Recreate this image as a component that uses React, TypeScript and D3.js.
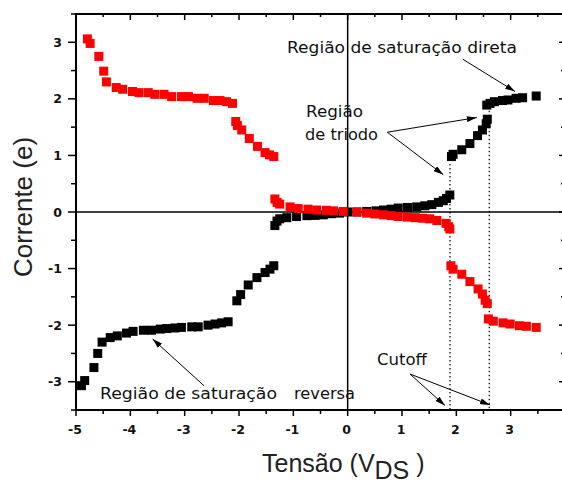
import React from "react";
import * as d3 from "d3";

const W = 562;
const H = 483;

const blackX = [-4.90, -4.84, -4.67, -4.60, -4.52, -4.37, -4.24, -4.07, -3.95, -3.76, -3.61, -3.45, -3.33, -3.18, -3.06, -2.87, -2.75, -2.57, -2.44, -2.32, -2.20, -2.04, -1.97, -1.83, -1.67, -1.52, -1.43, -1.36,
  -1.34, -1.30, -1.25, -1.12, -0.94, -0.75, -0.60, -0.45, -0.30, -0.15, 0.0,
  0.17, 0.35, 0.52, 0.66, 0.80, 0.93, 1.10, 1.27, 1.42, 1.55, 1.67, 1.76, 1.82, 1.88,
  1.91, 1.94, 2.10, 2.25, 2.39, 2.48, 2.55, 2.57, 2.56, 2.62, 2.70, 2.85, 2.95, 3.10, 3.22, 3.47];
const blackY = [-3.07, -2.98, -2.75, -2.50, -2.30, -2.22, -2.19, -2.14, -2.11, -2.09, -2.09, -2.07, -2.06, -2.05, -2.04, -2.03, -2.03, -2.00, -1.98, -1.96, -1.94, -1.57, -1.46, -1.29, -1.16, -1.07, -1.01, -0.95,
  -0.24, -0.16, -0.12, -0.10, -0.08, -0.065, -0.06, -0.05, -0.03, -0.02, 0.0,
  0.0, 0.01, 0.02, 0.035, 0.05, 0.07, 0.08, 0.09, 0.11, 0.13, 0.17, 0.20, 0.24, 0.30,
  0.98, 1.02, 1.10, 1.21, 1.35, 1.45, 1.56, 1.64, 1.89, 1.92, 1.95, 1.97, 1.98, 2.01, 2.02, 2.05];

const redX = [-4.79, -4.74, -4.58, -4.49, -4.44, -4.26, -4.14, -3.96, -3.84, -3.67, -3.55, -3.38, -3.24, -3.06, -2.93, -2.77, -2.64, -2.47, -2.35, -2.23, -2.12, -2.06, -2.03, -1.95, -1.81, -1.66, -1.52, -1.44, -1.36,
  -1.34, -1.30, -1.25, -1.06, -0.91, -0.73, -0.57, -0.39, -0.26, -0.08,
  0.17, 0.35, 0.50, 0.66, 0.80, 0.93, 1.10, 1.24, 1.38, 1.51, 1.64, 1.81, 1.86, 1.88,
  1.90, 1.94, 2.10, 2.25, 2.40, 2.48, 2.53, 2.57, 2.59, 2.68, 2.86, 2.99, 3.16, 3.29, 3.47];
const redY = [3.06, 2.98, 2.75, 2.49, 2.30, 2.20, 2.17, 2.13, 2.11, 2.11, 2.08, 2.08, 2.04, 2.04, 2.04, 2.01, 2.01, 1.97, 1.97, 1.95, 1.92, 1.60, 1.53, 1.45, 1.30, 1.16, 1.05, 1.01, 0.98,
  0.23, 0.17, 0.14, 0.09, 0.06, 0.05, 0.035, 0.03, 0.02, 0.01,
  0.0, -0.02, -0.035, -0.05, -0.065, -0.08, -0.09, -0.10, -0.11, -0.12, -0.15, -0.20, -0.26, -0.30,
  -0.95, -1.01, -1.10, -1.23, -1.36, -1.45, -1.56, -1.62, -1.89, -1.93, -1.96, -1.98, -2.01, -2.02, -2.04];

const xTicks = [-5, -4, -3, -2, -1, 0, 1, 2, 3];
const yTicks = [-3, -2, -1, 0, 1, 2, 3];
const cutoffX = [1.883, 2.606];
const cutoffTop = [0.85, 1.79];

export default function App() {
  const x = d3.scaleLinear().domain([-5, 4]).range([76, 565]);
  const y = d3.scaleLinear().domain([-3.5, 3.5]).range([410, 14]);
  const minorX = d3.range(-5, 4.01, 0.5).filter((v) => !Number.isInteger(v));
  const minorY = d3.range(-3.5, 3.51, 0.5).filter((v) => !Number.isInteger(v));
  const S = 9;
  const font = "'DejaVu Sans', sans-serif";
  const titleFont = "'Liberation Sans', Arial, sans-serif";

  const arrow = (x1: number, y1: number, x2: number, y2: number, k: string) => (
    <line key={k} x1={x(x1)} y1={y(y1)} x2={x(x2)} y2={y(y2)} stroke="#000" strokeWidth={1} markerEnd="url(#ah)" />
  );

  return (
    <svg width={W} height={H} style={{ position: "absolute", left: 0, top: 0, background: "#fff" }}>
      <defs>
        <marker id="ah" viewBox="0 0 10 6" refX="10" refY="3" markerWidth="10" markerHeight="6" markerUnits="userSpaceOnUse" orient="auto">
          <path d="M0,0 L10,3 L0,6 Z" fill="#000" />
        </marker>
      </defs>
      <rect x={0} y={0} width={W} height={H} fill="#fff" />

      {/* zero lines */}
      <line x1={x(-5)} x2={x(4)} y1={y(0)} y2={y(0)} stroke="#000" strokeWidth={1.5} />
      <line x1={x(0)} x2={x(0)} y1={y(3.5)} y2={y(-3.5)} stroke="#000" strokeWidth={1.5} />

      {/* dotted cutoff lines */}
      {cutoffX.map((cx, i) => (
        <line key={"d" + i} x1={x(cx)} x2={x(cx)} y1={y(cutoffTop[i])} y2={y(-3.5)} stroke="#000" strokeWidth={1.2} strokeDasharray="1.5,2.5" />
      ))}

      {/* data */}
      {blackX.map((v, i) => (
        <rect key={"b" + i} x={x(v) - S / 2} y={y(blackY[i]) - S / 2} width={S} height={S} fill="#000" />
      ))}
      {redX.map((v, i) => (
        <rect key={"r" + i} x={x(v) - S / 2} y={y(redY[i]) - S / 2} width={S} height={S} fill="#ff0000" />
      ))}

      {/* frame */}
      <rect x={x(-5)} y={y(3.5)} width={x(4) - x(-5)} height={y(-3.5) - y(3.5)} fill="none" stroke="#000" strokeWidth={2} />

      {/* bottom ticks (out) and top ticks (in) */}
      {xTicks.map((t) => (
        <g key={"xt" + t}>
          <line x1={x(t)} x2={x(t)} y1={y(-3.5)} y2={y(-3.5) + 6} stroke="#000" strokeWidth={1.5} />
          <line x1={x(t)} x2={x(t)} y1={y(3.5)} y2={y(3.5) + 6} stroke="#000" strokeWidth={1.5} />
          <text x={x(t) - 1} y={434} textAnchor="middle" fontFamily={font} fontWeight="bold" fontSize={12.5} fill="#111">
            {t}
          </text>
        </g>
      ))}
      {minorX.map((t) => (
        <g key={"xm" + t}>
          <line x1={x(t)} x2={x(t)} y1={y(-3.5)} y2={y(-3.5) + 4} stroke="#000" strokeWidth={1.5} />
          <line x1={x(t)} x2={x(t)} y1={y(3.5)} y2={y(3.5) + 3} stroke="#000" strokeWidth={1.5} />
        </g>
      ))}
      {/* left ticks (out) and right ticks (in) */}
      {yTicks.map((t) => (
        <g key={"yt" + t}>
          <line x1={x(-5) - 8} x2={x(-5)} y1={y(t)} y2={y(t)} stroke="#000" strokeWidth={1.5} />
          <line x1={x(4) - 6} x2={x(4)} y1={y(t)} y2={y(t)} stroke="#000" strokeWidth={1.5} />
          <text x={62} y={y(t) + 4.5} textAnchor="end" fontFamily={font} fontWeight="bold" fontSize={12.5} fill="#111">
            {t}
          </text>
        </g>
      ))}
      {minorY.map((t) => (
        <g key={"ym" + t}>
          <line x1={x(-5) - 5} x2={x(-5)} y1={y(t)} y2={y(t)} stroke="#000" strokeWidth={1.5} />
          <line x1={x(4) - 4} x2={x(4)} y1={y(t)} y2={y(t)} stroke="#000" strokeWidth={1.5} />
        </g>
      ))}

      {/* annotations */}
      <text x={287} y={53} fontFamily={font} fontSize={16} textLength={230} lengthAdjust="spacingAndGlyphs" fill="#111">Região de saturação direta</text>
      <text x={306} y={117} fontFamily={font} fontSize={16} textLength={57} lengthAdjust="spacingAndGlyphs" fill="#111">Região</text>
      <text x={305} y={140} fontFamily={font} fontSize={16} textLength={73} lengthAdjust="spacingAndGlyphs" fill="#111">de triodo</text>
      <text x={100} y={399} fontFamily={font} fontSize={16} textLength={177} lengthAdjust="spacingAndGlyphs" fill="#111">Região de saturação</text>
      <text x={294} y={399} fontFamily={font} fontSize={16} textLength={61} lengthAdjust="spacingAndGlyphs" fill="#111">reversa</text>
      <text x={377} y={365} fontFamily={font} fontSize={16} textLength={50} lengthAdjust="spacingAndGlyphs" fill="#111">Cutoff</text>

      {arrow(2.12, 2.70, 3.08, 2.13, "a1")}
      {arrow(0.73, 1.41, 2.376, 1.67, "a2")}
      {arrow(0.73, 1.41, 1.76, 0.66, "a3")}
      {arrow(-2.645, -3.07, -3.59, -2.245, "a4")}
      {arrow(1.147, -2.864, 1.79, -3.42, "a5")}
      {arrow(1.147, -2.864, 2.62, -3.41, "a6")}

      {/* axis titles */}
      <text x={262} y={472} fontFamily={titleFont} fontSize={25} fill="#222">
        Tensão (V<tspan dy={7}>DS</tspan><tspan dy={-7}> )</tspan>
      </text>
      <text transform={`translate(32,207) rotate(-90)`} textAnchor="middle" fontFamily={titleFont} fontSize={26} fill="#222">
        Corrente (e)
      </text>
    </svg>
  );
}
